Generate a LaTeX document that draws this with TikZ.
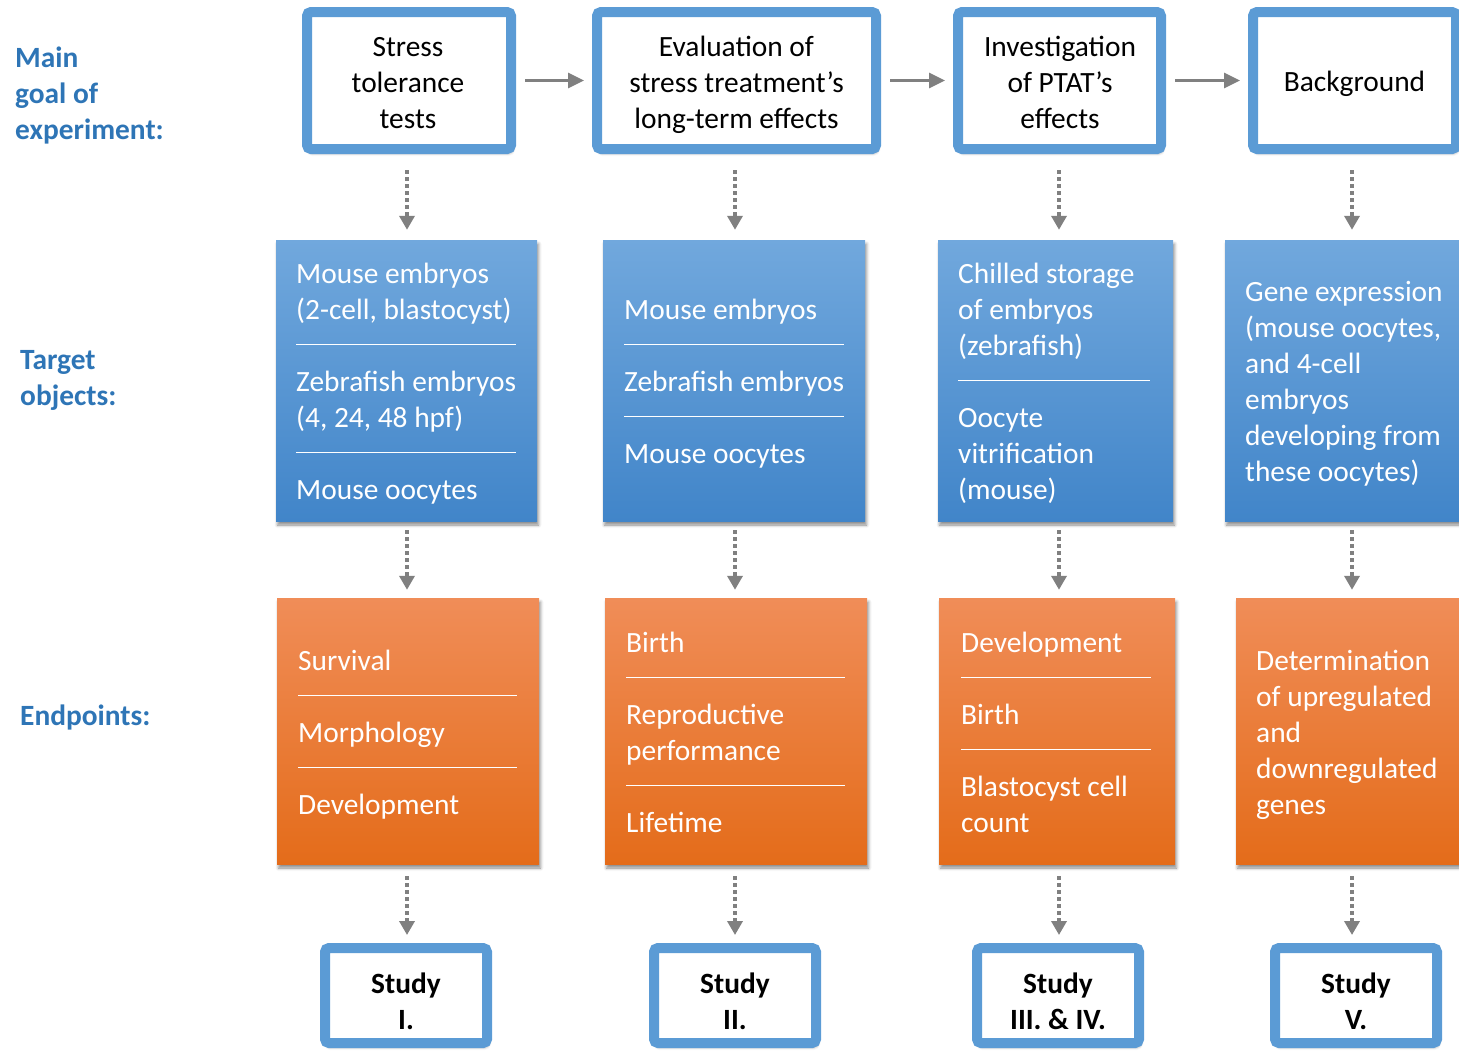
\documentclass[tikz,border=0pt]{standalone}
\usepackage{fontspec}
\setmainfont{Carlito}
\usetikzlibrary{arrows.meta,shadows.blur,calc}
\definecolor{bord}{HTML}{5B9BD5}
\definecolor{arrgray}{HTML}{808080}
\definecolor{lbl}{HTML}{2E75B6}
\definecolor{blueT}{HTML}{71A8DD}
\definecolor{blueM}{HTML}{5A9BD8}
\definecolor{blueB}{HTML}{4185C9}
\definecolor{orT}{HTML}{F08D58}
\definecolor{orM}{HTML}{F37E2F}
\definecolor{orB}{HTML}{E46C1A}
\newcommand\reg{\fontsize{29.4}{36}\selectfont}
\newcommand\tstrut{\rule{0pt}{25pt}}
\newcommand\sepl[1]{\rule[10pt]{#1pt}{1.6pt}}
\begin{document}
\begin{tikzpicture}[x=1pt,y=-1pt,
  shd/.style={blur shadow={shadow xshift=1.5pt,shadow yshift=-4pt,shadow blur radius=3pt,shadow opacity=45}},
  goalbox/.style={draw=bord,line width=10pt,fill=white,rounded corners=4pt,shd,inner sep=0pt,minimum height=137pt},
  goaltxt/.style={font=\reg,text=black,align=center,inner sep=0pt,anchor=north},
  studybox/.style={draw=bord,line width=10pt,fill=white,rounded corners=4pt,shd,inner sep=0pt,minimum width=162pt,minimum height=95pt},
  studytxt/.style={font=\reg\bfseries,align=center,inner sep=0pt,anchor=north,text=black},
  tgtbox/.style={draw=none,top color=blueT,middle color=blueM,bottom color=blueB,shd,inner sep=0pt,minimum height=281pt},
  endbox/.style={draw=none,top color=orT,middle color=orM,bottom color=orB,shd,inner sep=0pt,minimum height=266pt},
  boxtxt/.style={font=\reg,text=white,align=left,inner sep=0pt,anchor=north west},
  lbltxt/.style={font=\reg\bfseries,text=lbl,align=left,inner sep=0pt,anchor=north west},
  harrow/.style={draw=arrgray,line width=3pt,-{Triangle[length=16pt,width=15pt]},shorten <=9pt,shorten >=8pt},
  varrow/.style={draw=arrgray,line width=4pt,dash pattern=on 4pt off 3pt,-{Triangle[length=14pt,width=15pt]}}
]
\useasboundingbox (0,0) rectangle (1459,1050);

% left labels
\node[lbltxt] (l1) at (15,42) {\tstrut Main\\goal of\\experiment:};
\node[lbltxt] (l2) at (20,344) {\tstrut Target\\objects:};
\node[lbltxt] (l3) at (20,700) {\tstrut Endpoints:};

% column x positions
\coordinate (c1) at (407,0);
\coordinate (c2) at (735,0);
\coordinate (c3) at (1059,0);
\coordinate (c4) at (1352,0);

% main goal boxes
\node[goalbox,minimum width=204pt] (g1) at (409,80.5) {};
\node[goalbox,minimum width=279pt] (g2) at (736.5,80.5) {};
\node[goalbox,minimum width=203pt] (g3) at (1059.5,80.5) {};
\node[goalbox,minimum width=203pt] (g4) at (1354.5,80.5) {};
\node[goaltxt] (g1x) at (408,31) {\tstrut Stress\\tolerance\\tests};
\node[goaltxt] (g2x) at (736.5,31) {\tstrut Evaluation of\\stress treatment’s\\long-term effects};
\node[goaltxt] (g3x) at (1060,31) {\tstrut Investigation\\of PTAT’s\\effects};
\node[goaltxt] (g4x) at (1354.5,66) {\tstrut Background};

% target objects boxes
\node[tgtbox,minimum width=261pt] (t1) at (406.5,380.5) {};
\node[tgtbox,minimum width=262pt] (t2) at (734,380.5) {};
\node[tgtbox,minimum width=235pt] (t3) at (1055.5,380.5) {};
\node[tgtbox,minimum width=235pt] (t4) at (1342.5,380.5) {};
\node[boxtxt] (t1x) at (296,258) {\tstrut Mouse embryos\\(2-cell, blastocyst)\\\sepl{220}\\Zebrafish embryos\\(4, 24, 48 hpf)\\\sepl{220}\\Mouse oocytes};
\node[boxtxt] (t2x) at (624,294) {\tstrut Mouse embryos\\\sepl{220}\\Zebrafish embryos\\\sepl{220}\\Mouse oocytes};
\node[boxtxt] (t3x) at (958,258) {\tstrut Chilled storage\\of embryos\\(zebrafish)\\\sepl{192}\\Oocyte\\vitrification\\(mouse)};
\node[boxtxt] (t4x) at (1245,276) {\tstrut Gene expression\\(mouse oocytes,\\and 4-cell\\embryos\\developing from\\these oocytes)};

% endpoint boxes
\node[endbox,minimum width=262pt] (e1) at (408,731) {};
\node[endbox,minimum width=262pt] (e2) at (736,731) {};
\node[endbox,minimum width=236pt] (e3) at (1057,731) {};
\node[endbox,minimum width=236pt] (e4) at (1354,731) {};
\node[boxtxt] (e1x) at (298,645) {\tstrut Survival\\\sepl{219}\\Morphology\\\sepl{219}\\Development};
\node[boxtxt] (e2x) at (626,627) {\tstrut Birth\\\sepl{219}\\Reproductive\\performance\\\sepl{219}\\Lifetime};
\node[boxtxt] (e3x) at (961,627) {\tstrut Development\\\sepl{190}\\Birth\\\sepl{190}\\Blastocyst cell\\count};
\node[boxtxt] (e4x) at (1256,645) {\tstrut Determination\\of upregulated\\and\\downregulated\\genes};

% study boxes
\node[studybox] (s1) at (406,995.5) {};
\node[studybox] (s2) at (735,995.5) {};
\node[studybox] (s3) at (1058,995.5) {};
\node[studybox] (s4) at (1356,995.5) {};
\node[studytxt] (s1x) at ($(s1.center)+(0,-27)$) {\tstrut Study\\I.};
\node[studytxt] (s2x) at ($(s2.center)+(0,-27)$) {\tstrut Study\\II.};
\node[studytxt] (s3x) at ($(s3.center)+(0,-27)$) {\tstrut Study\\III. \& IV.};
\node[studytxt] (s4x) at ($(s4.center)+(0,-27)$) {\tstrut Study\\V.};

% horizontal arrows
\draw[harrow] (g1.east) -- (g2.west);
\draw[harrow] (g2.east) -- (g3.west);
\draw[harrow] (g3.east) -- (g4.west);

% vertical dotted arrows
\foreach \i in {1,2,3,4}{
  \draw[varrow,shorten <=16pt,shorten >=10pt] (g\i.south -| c\i) -- (t\i.north -| c\i);
  \draw[varrow,shorten <=9pt,shorten >=8pt] (t\i.south -| c\i) -- (e\i.north -| c\i);
  \draw[varrow,shorten <=12pt,shorten >=8pt] (e\i.south -| c\i) -- (s\i.north -| c\i);
}
\end{tikzpicture}
\end{document}
